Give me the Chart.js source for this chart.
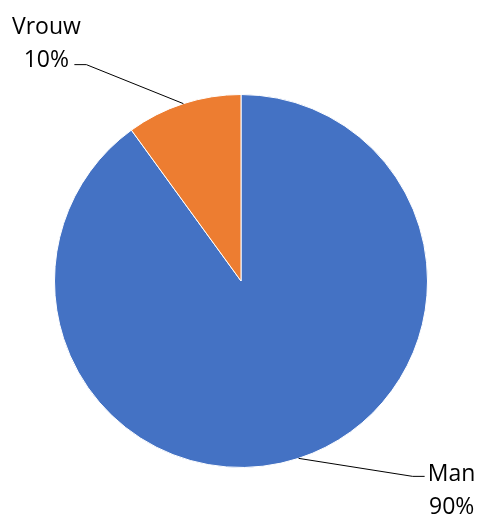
<!DOCTYPE html>
<html>
<head>
<meta charset="utf-8">
<script src="https://cdn.jsdelivr.net/npm/chart.js@4/dist/chart.umd.min.js"></script>
<style>
  html, body { margin: 0; padding: 0; background: #fff; }
  #wrap { width: 480px; height: 517px; }
</style>
</head>
<body>
<div id="wrap"><canvas id="pie"></canvas></div>
<script>
// categories and values
const labels = ['Man', 'Vrouw'];
const values = [90, 10];
const colors = ['#4472C4', '#ED7D31'];

// leader lines + labels like excel's data callouts
const calloutPlugin = {
    id: 'callouts',
    afterDraw(chart, args, opts) {
        const ctx = chart.ctx;
        const meta = chart.getDatasetMeta(0);
        const total = values.reduce((a, b) => a + b, 0);
        ctx.save();
        ctx.font = opts.font;
        ctx.fillStyle = '#000';
        ctx.strokeStyle = '#000';
        ctx.lineWidth = 1;
        meta.data.forEach((arc, i) => {
            const mid = (arc.startAngle + arc.endAngle) / 2;
            const r = arc.outerRadius;
            const px = arc.x + Math.cos(mid) * r;
            const py = arc.y + Math.sin(mid) * r;
            const off = opts.offsets[i];
            const ex = px + off.dx;
            const ey = py + off.dy;
            const side = off.dx < 0 ? -1 : 1;
            const tx = ex + side * off.tail;
            ctx.beginPath();
            ctx.moveTo(px, py);
            ctx.lineTo(ex, ey);
            ctx.lineTo(tx, ey);
            ctx.stroke();
            const pct = Math.round(values[i] / total * 100) + '%';
            ctx.textAlign = 'center';
            ctx.textBaseline = 'alphabetic';
            const cx = tx + side * off.textGap;
            ctx.fillText(labels[i], cx, ey + off.line1);
            ctx.fillText(pct, cx, ey + off.line1 + opts.lineHeight);
        });
        ctx.restore();
    }
};

const cfg = {
    type: 'pie',
    data: {
        labels: labels,
        datasets: [{
            data: values,
            backgroundColor: colors,
            borderColor: '#fff',
            borderWidth: 1
        }]
    },
    options: {
        responsive: true,
        maintainAspectRatio: false,
        animation: false,
        layout: { padding: { left: 54, right: 52, top: 94, bottom: 49 } },
        plugins: {
            legend: { display: false },
            tooltip: { enabled: false },
            callouts: {
                font: '23px "Open Sans"',
                lineHeight: 33,
                offsets: [
                    { dx: 114, dy: 18, tail: 12, textGap: 27, line1: 5 },
                    { dx: -97, dy: -39, tail: 12, textGap: 28, line1: -31 }
                ]
            }
        }
    },
    plugins: [calloutPlugin]
};

const myChart = new Chart(document.getElementById('pie'), cfg);
</script>
</body>
</html>
